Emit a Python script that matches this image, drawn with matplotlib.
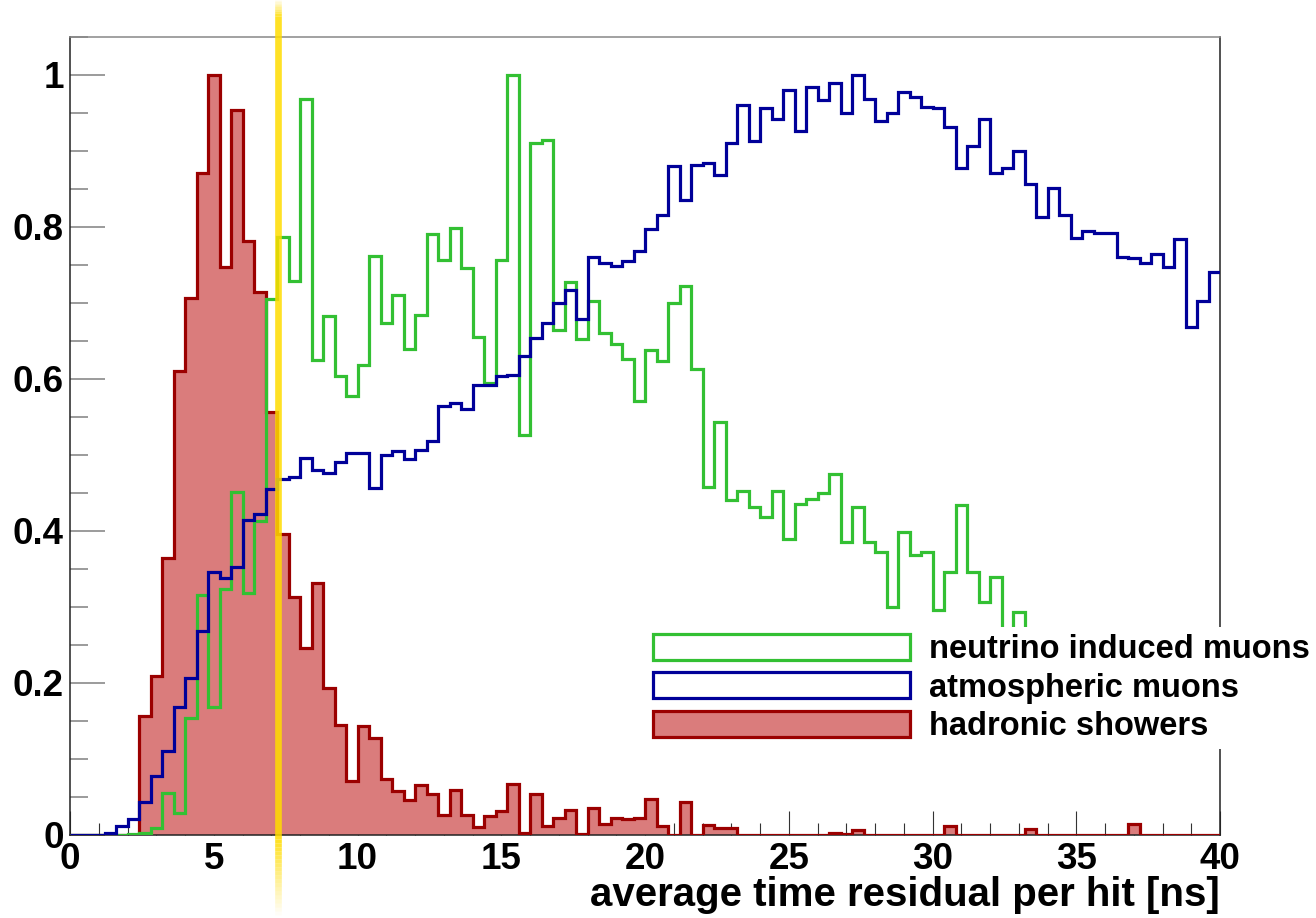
import numpy as np
import matplotlib
matplotlib.use("Agg")
from matplotlib import pyplot as plt
from matplotlib.patches import Patch
from matplotlib.collections import LineCollection

plt.rcParams['font.family'] = ['Liberation Sans', 'DejaVu Sans']
plt.rcParams['font.weight'] = 'bold'

# 100 bins of 0.4 ns between 0 and 40 ns
edges = np.linspace(0, 40, 101)

hadronic = [0, 0, 0, 0, 0, 0, 0.157, 0.209, 0.364, 0.611,
            0.707, 0.871, 1.0, 0.748, 0.954, 0.781, 0.715, 0.556, 0.396, 0.313,
            0.246, 0.332, 0.194, 0.145, 0.071, 0.143, 0.127, 0.074, 0.058, 0.046,
            0.066, 0.054, 0.026, 0.059, 0.026, 0.011, 0.025, 0.031, 0.067, 0.002,
            0.054, 0.012, 0.023, 0.033, 0.001, 0.035, 0.015, 0.023, 0.021, 0.022,
            0.048, 0.012, 0, 0.044, 0, 0.013, 0.009, 0.009, 0, 0,
            0, 0, 0, 0, 0, 0, 0.003, 0.001, 0.006, 0,
            0, 0, 0, 0, 0, 0, 0.012, 0, 0, 0,
            0, 0, 0, 0.0075, 0, 0, 0, 0, 0, 0,
            0, 0, 0.015, 0, 0, 0, 0, 0, 0, 0]

atmospheric = [0, 0, 0, 0.002, 0.012, 0.021, 0.044, 0.078, 0.110, 0.168,
               0.207, 0.268, 0.346, 0.338, 0.352, 0.414, 0.423, 0.455, 0.468, 0.471,
               0.496, 0.480, 0.476, 0.491, 0.503, 0.502, 0.456, 0.500, 0.505, 0.495,
               0.507, 0.518, 0.564, 0.568, 0.561, 0.592, 0.592, 0.604, 0.605, 0.630,
               0.654, 0.674, 0.700, 0.717, 0.679, 0.760, 0.752, 0.749, 0.755, 0.769,
               0.798, 0.816, 0.880, 0.836, 0.882, 0.884, 0.868, 0.911, 0.961, 0.913,
               0.957, 0.942, 0.980, 0.926, 0.984, 0.967, 0.990, 0.950, 1.0, 0.969,
               0.940, 0.950, 0.978, 0.971, 0.958, 0.957, 0.932, 0.877, 0.907, 0.942,
               0.871, 0.878, 0.900, 0.856, 0.813, 0.851, 0.816, 0.786, 0.795, 0.792,
               0.792, 0.760, 0.759, 0.752, 0.764, 0.748, 0.784, 0.668, 0.702, 0.741]

neutrino = [0, 0, 0, 0, 0, 0.001, 0.002, 0.009, 0.055, 0.029,
            0.154, 0.316, 0.168, 0.324, 0.451, 0.318, 0.413, 0.705, 0.787, 0.729,
            0.968, 0.625, 0.683, 0.604, 0.578, 0.618, 0.762, 0.674, 0.711, 0.640,
            0.684, 0.791, 0.756, 0.799, 0.746, 0.655, 0.595, 0.757, 1.0, 0.526,
            0.910, 0.915, 0.664, 0.727, 0.652, 0.702, 0.661, 0.646, 0.626, 0.571,
            0.638, 0.624, 0.700, 0.723, 0.613, 0.458, 0.543, 0.441, 0.452, 0.431,
            0.418, 0.452, 0.390, 0.436, 0.442, 0.450, 0.475, 0.386, 0.432, 0.386,
            0.373, 0.300, 0.399, 0.368, 0.373, 0.296, 0.346, 0.434, 0.346, 0.306,
            0.339, 0.24, 0.293, 0.23, 0.20, 0.21, 0.18, 0.19, 0.17, 0.16,
            0.17, 0.15, 0.16, 0.14, 0.15, 0.13, 0.14, 0.13, 0.12, 0.13]

labels = ["neutrino induced muons", "atmospheric muons", "hadronic showers"]
cut_value = 7.22

green = '#33c033'
blue = '#000099'
red_edge = '#9b0000'
red_fill = '#da7c7c'
yellow = '#ffdc00'

fig = plt.figure(figsize=(13.16, 9.18), dpi=100)
ax = fig.add_axes([70 / 1316, 83 / 918, 1150 / 1316, 798 / 918])

ax.stairs(hadronic, edges, fill=True, color=red_fill, zorder=2)
ax.stairs(hadronic, edges, baseline=None, color=red_edge, lw=2.3, zorder=3)
ax.stairs(neutrino, edges, baseline=None, color=green, lw=2.3, zorder=3)
ax.stairs(atmospheric, edges, baseline=None, color=blue, lw=2.3, zorder=3)

# yellow cut line with faded ends
rgb = np.array(matplotlib.colors.to_rgb(yellow))
segs, cols = [], []
segs.append([(cut_value, -0.005), (cut_value, 1.078)])
cols.append((*rgb, 0.85))
top = np.linspace(1.078, 1.10, 8)
for a, b, al in zip(top[:-1], top[1:], np.linspace(0.8, 0.05, 7)):
    segs.append([(cut_value, a), (cut_value, b)])
    cols.append((*rgb, al))
bot = np.linspace(-0.005, -0.105, 20)
for a, b, al in zip(bot[:-1], bot[1:], np.linspace(0.85, 0.03, 19)):
    segs.append([(cut_value, a), (cut_value, b)])
    cols.append((*rgb, al))
lc = LineCollection(segs, colors=cols, linewidths=4.8, zorder=6, clip_on=False,
                    capstyle='butt')
ax.add_collection(lc)

ax.set_xlim(0, 40)
ax.set_ylim(0, 1.05)
ax.set_xticks(np.arange(0, 41, 5))
ax.set_xticks(np.arange(0, 41, 1), minor=True)
ax.set_yticks([0, 0.2, 0.4, 0.6, 0.8, 1.0])
ax.set_yticks(np.arange(0, 1.051, 0.05), minor=True)
ax.set_xticklabels([str(v) for v in range(0, 41, 5)])
ax.set_yticklabels(['0', '0.2', '0.4', '0.6', '0.8', '1'])

ax.tick_params(axis='x', which='major', direction='in', length=17, width=0.8,
               color='#333333', labelsize=26.5, pad=5)
ax.tick_params(axis='x', which='minor', direction='in', length=8.5, width=0.8,
               color='#333333')
ax.tick_params(axis='y', which='major', direction='in', length=25, width=1.1,
               color='#808080', labelsize=26.5, pad=4.5)
ax.tick_params(axis='y', which='minor', direction='in', length=13, width=1.1,
               color='#808080')
for lab in ax.get_xticklabels() + ax.get_yticklabels():
    lab.set_fontweight('bold')

ax.spines['top'].set_color('#888888')
for s in ['left', 'right', 'bottom']:
    ax.spines[s].set_color('#222222')
for s in ax.spines.values():
    s.set_linewidth(1.1)

ax.set_xlabel("average time residual per hit [ns]", fontsize=29,
              fontweight='bold', loc='right')
ax.xaxis.set_label_coords(1.0, -0.052)

handles = [Patch(facecolor='white', edgecolor=green, lw=2.3),
           Patch(facecolor='white', edgecolor=blue, lw=2.3),
           Patch(facecolor=red_fill, edgecolor=red_edge, lw=2.3)]
leg = ax.legend(handles, labels, loc='upper left',
                bbox_to_anchor=(646 / 1316, 1 - 627 / 918),
                bbox_transform=fig.transFigure, borderaxespad=0,
                borderpad=0.2, fontsize=23.5, handlelength=7.9, handleheight=0.86,
                handletextpad=0.58, labelspacing=0.22, frameon=True,
                fancybox=False, edgecolor='none', framealpha=1)
leg.set_zorder(7)
for t in leg.get_texts():
    t.set_fontweight('bold')

fig.savefig("out.png", dpi=100)
